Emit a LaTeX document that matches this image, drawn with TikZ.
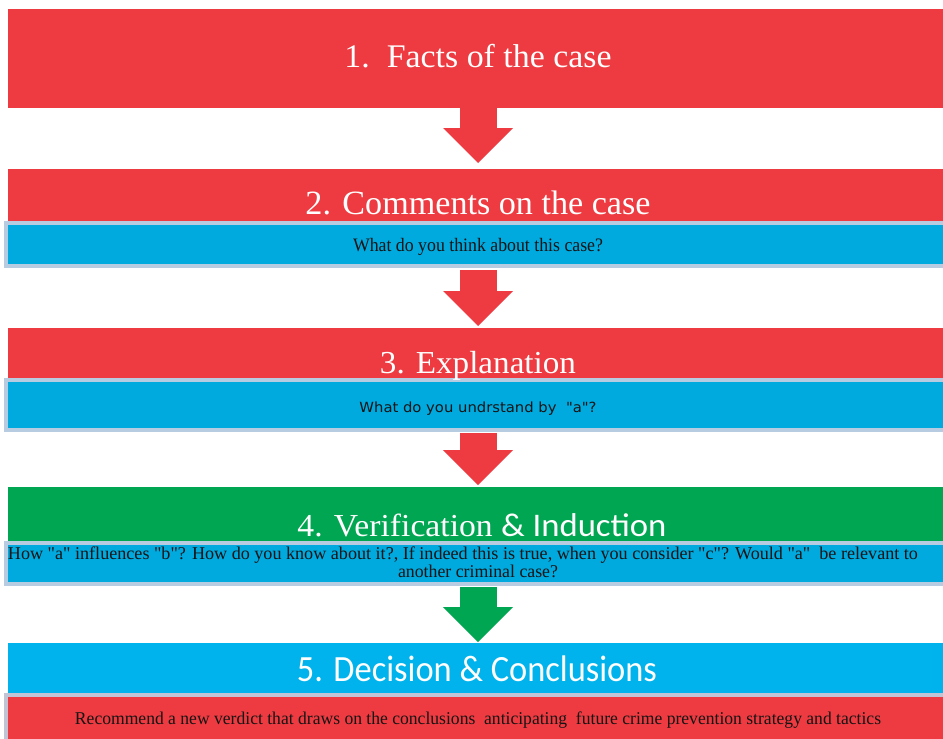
\documentclass[tikz,border=0pt]{standalone}
\usepackage{fontspec}
\usepackage{graphicx}
\setmainfont{Liberation Serif}
\newfontfamily\lserif{Liberation Serif}
\newfontfamily\calib{Carlito}
\newfontfamily\dvsans{DejaVu Sans}
\usetikzlibrary{arrows.meta}
\definecolor{cred}{HTML}{EE3B41}
\definecolor{cblue}{HTML}{00A9DE}
\definecolor{ctblue}{HTML}{00B3EC}
\definecolor{cgreen}{HTML}{00A651}
\definecolor{cbord}{HTML}{B7CCE0}
\definecolor{cbordr}{HTML}{C0C4D5}
\newcommand{\fitw}[3]{\resizebox{#1pt}{\height}{\fontsize{#2}{#2}\selectfont #3}}
\tikzset{
  box/.style={rectangle, inner sep=0pt, outer sep=0pt, anchor=north west, minimum width=940pt},
  subbox/.style={rectangle, inner sep=0pt, outer sep=0pt, anchor=north west, minimum width=944pt, line width=4pt},
  title/.style={anchor=base, inner sep=0pt, text=white},
  sub/.style={anchor=base, inner sep=0pt, text=black!92, font=\lserif},
  blockarrow/.style={line width=37pt, -{Triangle[width=70pt,length=35pt,line width=0pt]}},
}
\begin{document}
\begin{tikzpicture}[x=1pt,y=-1pt]
\useasboundingbox (0,0) rectangle (943,739);
\clip (0,0) rectangle (943,739);
\fill[white] (0,0) rectangle (943,739);
% boxes
\node[box, fill=cred, minimum height=99pt] (b1) at (8,9) {};
\node[box, fill=cred, minimum height=53pt] (b2) at (8,169) {};
\node[subbox, fill=cblue, draw=cbord, minimum height=43pt] (s2) at (6,223) {};
\node[box, fill=cred, minimum height=50pt] (b3) at (8,328) {};
\node[subbox, fill=cblue, draw=cbord, minimum height=50pt] (s3) at (6,380) {};
\node[box, fill=cgreen, minimum height=54pt] (b4) at (8,487) {};
\node[subbox, fill=cblue, draw=cbord, minimum height=41pt] (s4) at (6,543) {};
\node[box, fill=ctblue, minimum height=50pt] (b5) at (8,643) {};
\node[subbox, fill=cred, draw=cbordr, minimum height=50pt] (s5) at (6,695) {};
% arrows
\draw[cred, blockarrow, shorten >=6pt] (b1.south) -- (b2.north);
\draw[cred, blockarrow, shorten <=4pt, shorten >=2pt] (s2.south) -- (b3.north);
\draw[cred, blockarrow, shorten <=3pt, shorten >=2pt] (s3.south) -- (b4.north);
\draw[cgreen, blockarrow, shorten <=3pt, shorten >=1pt] (s4.south) -- (b5.north);
% titles
\node[title] (t1) at (478,67) {\fitw{267}{33}{1.\ \ Facts of the case}};
\node[title] (t2) at (478,214) {\fitw{345}{34}{2. Comments\ on the case}};
\node[title] (t3) at (478,373) {\fitw{196}{32}{3. Explanation}};
\node[title] (t4) at (482,536) {\fitw{369}{32}{4. Verification {\calib\fontsize{33}{33}\selectfont \& Induction}}};
\node[title] (t5) at (477,681) {\fitw{360}{37}{\calib 5. Decision \& Conclusions}};
% sub texts
\node[sub] (q2) at (478,251) {\fitw{250}{19}{What do you think about this case?}};
\node[sub] (q3) at (478,412) {\fitw{237}{14}{\dvsans What do you undrstand by\ \ "a"?}};
\node[sub] (q4a) at (463,559) {\fitw{910}{18}{How "a" influences "b"? How do you know about it?, If indeed this is true, when you consider "c"? Would "a"\ \ be relevant to}};
\node[sub] (q4b) at (478,577) {\fitw{160}{18}{another criminal case?}};
\node[sub] (q5) at (478,724) {\fitw{806}{18}{Recommend a new verdict that draws on the conclusions\ \ anticipating\ \ future crime prevention strategy and tactics}};
\end{tikzpicture}
\end{document}
